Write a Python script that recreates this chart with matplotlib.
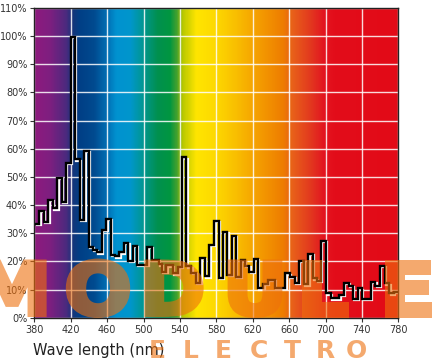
import matplotlib
matplotlib.use("Agg")
import matplotlib.pyplot as plt
import matplotlib.transforms as mtransforms
from matplotlib.colors import LinearSegmentedColormap
from matplotlib.textpath import TextPath
from matplotlib.patches import PathPatch
from matplotlib.font_manager import FontProperties
import numpy as np

# step edges (nm) and relative intensity (%)
edges = [380, 385.5, 390.7, 395.4, 400.2, 405.3, 410, 414.8, 420, 424.7, 430.2, 435,
         440, 444.5, 448.5, 454, 459, 464, 468.7, 473.5, 478.5, 483.3, 488, 492.8,
         504.3, 508.8, 517, 520.5, 525, 532.5, 537.5, 542.5, 547, 552.5, 557.5, 562.5,
         567.3, 572.3, 577.5, 582.5, 587, 592, 597, 601.6, 606.8, 611.5, 616.3, 620.9,
         625.8, 631.6, 636.8, 644, 655.8, 661, 666.5, 671, 676, 681, 686, 690.5, 695,
         700.4, 706, 715.2, 720.3, 725.3, 730.2, 735.2, 740, 749.8, 754.8, 760, 765,
         770, 775.3, 780]
levels = [33.3, 37.9, 34.1, 41.8, 38.8, 49.7, 41.2, 55, 99.8, 56.2, 34.7, 59.2,
          25.2, 24.0, 23.2, 31.2, 35.2, 22.2, 21.8, 23.2, 26.6, 20.2, 25.5, 18.8,
          25.1, 20.6, 19.0, 16.4, 18.6, 15.8, 18.0, 57.0, 18.2, 15.9, 12.3, 21.2,
          14.7, 25.9, 34.3, 14.1, 30.5, 15.2, 29.1, 14.4, 20.4, 18.3, 16.4, 20.9,
          10.4, 12.0, 13.4, 10.6, 15.8, 14.6, 12.5, 20.2, 11.8, 22.8, 14.0, 13.0,
          27.3, 8.6, 6.9, 8.2, 12.3, 11.4, 6.6, 10.4, 6.6, 12.8, 11.2, 18.4, 12.2,
          8.6, 9.1]

x_ticks = list(range(380, 781, 40))
y_ticks = list(range(0, 111, 10))

# spectrum background colours
spec_nm = [380, 397, 415, 422, 430, 445, 460, 470, 485, 500, 515, 529, 536, 543,
           558, 580, 602, 624, 653, 664, 686, 698, 710, 780]
spec_col = ['#8e1a7e', '#7d1f80', '#4a2a7e', '#14357a', '#003f86', '#004a8f',
            '#0070b5', '#0092d0', '#0096cc', '#00968f', '#00904f', '#009640',
            '#40a030', '#b8c800', '#ffe500', '#fdd800', '#f9be00', '#f5a000',
            '#ee7d00', '#e8601a', '#e2331f', '#e31520', '#e30d1a', '#e20a17']

W, H = 435, 364
fig = plt.figure(figsize=(W / 100, H / 100), dpi=100)
ax = fig.add_axes([0.0789, 0.1272, 0.8368, 0.8508])

pos = [(n - 380) / 400 for n in spec_nm]
cmap = LinearSegmentedColormap.from_list('spec', list(zip(pos, spec_col)))
grad = np.linspace(0, 1, 800).reshape(1, -1)
ax.imshow(grad, cmap=cmap, aspect='auto', extent=[380, 780, 0, 110],
          origin='lower', zorder=0)

ax.set_xlim(380, 780)
ax.set_ylim(0, 110)
ax.set_xticks(x_ticks)
ax.set_yticks(y_ticks)
ax.set_yticklabels([f'{v}%' for v in y_ticks])
ax.grid(True, color='white', lw=1.0, alpha=0.85, zorder=1)
ax.set_axisbelow(False)

# white shadow line then black line
shift = mtransforms.offset_copy(ax.transData, fig=fig, x=1.3, y=-1.3, units='dots')
ax.stairs(levels, edges, baseline=None, color='white', lw=1.6, transform=shift, zorder=3)
ax.stairs(levels, edges, baseline=None, color='black', lw=1.7, zorder=4)

ax.tick_params(labelsize=7, colors='#333333', length=3, width=0.8, pad=2)
for s in ax.spines.values():
    s.set_color('#222222')
    s.set_linewidth(1.0)
    s.set_zorder(5)

fig.text(33 / W, 1 - 351 / H, 'Wave length (nm)', ha='left', va='center',
         fontsize=10.5, color='#222222')

# watermark: drawn opaque, then faded as a whole so the thick outline
# does not double up the transparency
wm = '#ee700d'


def fade(im, dpi):
    im = im.copy()
    im[..., 3] *= 0.6
    return im, 0, 0


fp = FontProperties(family='DejaVu Sans', weight='bold')
pix = mtransforms.Affine2D().scale(1 / W, 1 / H) + fig.transFigure
for ch, cx in zip('MODULE', [12, 98, 174, 255, 325, 408]):
    tp = TextPath((0, 0), ch, size=72, prop=fp)
    bb = tp.get_extents()
    tr = mtransforms.Affine2D().translate(-(bb.x0 + bb.x1) / 2, 0) \
        .scale(1.1, 1).translate(cx, H - 314.5)
    p = PathPatch(tr.transform_path(tp), facecolor=wm, edgecolor=wm, lw=3.6,
                  transform=pix, zorder=10)
    p.set_agg_filter(fade)
    fig.add_artist(p)

for ch, cx in zip('ELECTRO', [157, 191, 223, 259, 292, 325, 356]):
    fig.text(cx / W, 1 - 358.5 / H, ch, ha='center', va='baseline',
             fontsize=18, fontweight='bold', color=wm, alpha=0.6, zorder=10)

fig.savefig('out.png', dpi=100)
